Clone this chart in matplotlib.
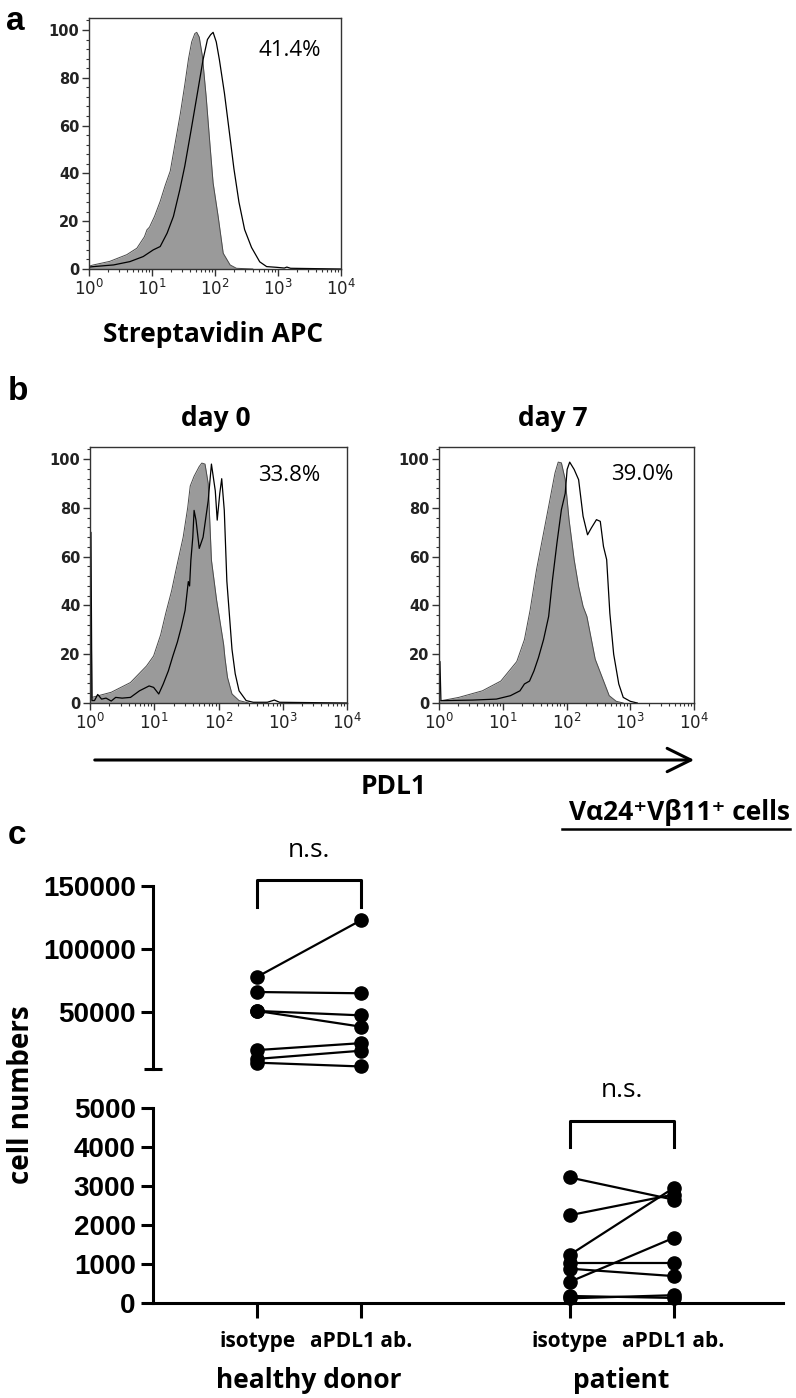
import numpy as np
import matplotlib
matplotlib.use('Agg')
import matplotlib.pyplot as plt
from matplotlib.ticker import MultipleLocator, LogLocator, NullFormatter, FixedLocator
from matplotlib.patches import FancyArrowPatch
from matplotlib.lines import Line2D

W, H = 796, 1398
LABEL_FONT = ['Open Sans', 'DejaVu Sans']
NUM_FONT = ['Liberation Sans', 'DejaVu Sans']
FLOW_FONT = ['DejaVu Sans']

# ---- panel a: Streptavidin APC histogram (log10 intensity, % of max)
a_iso_log = [0.00, 0.07, 0.33, 0.60, 0.76, 0.88, 0.92, 0.96, 1.04, 1.13, 1.21, 1.29, 1.37, 1.45,
             1.52, 1.58, 1.63, 1.68, 1.71, 1.75, 1.80, 1.86, 1.92, 1.97, 2.05, 2.13, 2.24, 2.34, 2.60]
a_iso_val = [1.2, 1.7, 3.2, 6.0, 8.7, 13.5, 16.4, 17.5, 22.0, 28.3, 35.0, 41.0, 53.0, 65.0,
             77.0, 88.0, 95.0, 98.5, 99.0, 97.0, 89.0, 72.0, 52.0, 36.0, 22.0, 6.6, 1.7, 0.3, 0.0]
a_pos_log = [0.00, 0.07, 0.39, 0.65, 0.86, 1.02, 1.13, 1.24, 1.34, 1.44, 1.52, 1.62, 1.73, 1.81,
             1.88, 1.93, 1.97, 2.02, 2.07, 2.15, 2.23, 2.30, 2.38, 2.47, 2.58, 2.71, 2.82, 2.98,
             3.10, 3.14, 3.20, 4.00]
a_pos_val = [0.8, 1.0, 1.7, 3.1, 5.2, 8.0, 9.4, 15.0, 22.0, 33.0, 43.0, 58.0, 75.0, 87.5,
             96.0, 98.0, 99.0, 95.0, 87.5, 73.5, 56.8, 42.0, 28.0, 16.5, 9.0, 3.0, 1.0, 0.7,
             0.4, 0.8, 0.3, 0.0]

# ---- panel b: PDL1 day 0
d0_iso_log = [0.00, 0.02, 0.03, 0.33, 0.63, 0.88, 0.99, 1.10, 1.18, 1.27, 1.35, 1.45, 1.52, 1.56,
              1.62, 1.66, 1.70, 1.74, 1.79, 1.84, 1.89, 1.97, 2.02, 2.08, 2.10, 2.14, 2.21, 2.32, 2.47]
d0_iso_val = [32.0, 32.0, 2.3, 4.4, 8.4, 15.2, 19.3, 28.0, 36.9, 46.0, 56.0, 68.0, 80.0, 89.0,
              93.0, 95.0, 97.0, 98.4, 98.0, 90.0, 58.6, 42.3, 34.0, 24.0, 18.6, 10.5, 3.7, 1.0, 0.0]
d0_pos_log = [0.00, 0.015, 0.03, 0.07, 0.12, 0.18, 0.25, 0.33, 0.40, 0.50, 0.63, 0.77, 0.92, 0.99,
              1.07, 1.14, 1.22, 1.29, 1.36, 1.42, 1.48, 1.53, 1.55, 1.57, 1.60, 1.62, 1.65, 1.70,
              1.76, 1.84, 1.89, 1.95, 1.98, 2.02, 2.05, 2.09, 2.13, 2.17, 2.21, 2.26, 2.32, 2.43,
              2.54, 2.76, 2.87, 2.95, 4.00]
d0_pos_val = [70.0, 70.0, 1.0, 1.0, 3.5, 1.6, 2.0, 0.8, 2.3, 2.0, 2.3, 5.0, 7.0, 6.4,
              3.7, 7.8, 13.2, 19.3, 25.0, 31.0, 38.0, 49.8, 48.0, 58.6, 68.0, 79.0, 75.0, 63.4,
              68.0, 83.0, 98.0, 87.0, 75.0, 86.0, 92.0, 79.0, 50.0, 36.0, 22.0, 12.0, 5.0, 1.0,
              0.3, 0.3, 1.2, 0.3, 0.0]

# ---- panel b: PDL1 day 7
d7_iso_log = [0.00, 0.05, 0.31, 0.68, 0.97, 1.22, 1.34, 1.43, 1.53, 1.64, 1.74, 1.82, 1.87, 1.92,
              1.98, 2.04, 2.12, 2.19, 2.26, 2.32, 2.45, 2.56, 2.67, 2.78, 2.89]
d7_iso_val = [1.0, 1.0, 2.3, 5.0, 9.0, 17.0, 26.0, 38.2, 54.7, 69.7, 83.4, 94.4, 98.8, 98.5,
              91.6, 75.2, 58.8, 47.8, 39.6, 35.5, 18.0, 10.5, 3.0, 0.7, 0.0]
d7_pos_log = [0.00, 0.015, 0.03, 0.09, 0.53, 0.90, 1.12, 1.27, 1.34, 1.42, 1.49, 1.56, 1.64, 1.72,
              1.78, 1.85, 1.92, 1.98, 2.01, 2.05, 2.12, 2.19, 2.26, 2.33, 2.39, 2.47, 2.53, 2.58,
              2.63, 2.68, 2.74, 2.82, 2.89, 3.00, 3.11]
d7_pos_val = [17.0, 17.0, 1.0, 1.0, 1.2, 1.6, 3.0, 5.0, 7.8, 9.0, 13.2, 18.6, 26.0, 35.5,
              50.5, 65.6, 79.3, 86.0, 95.8, 98.8, 95.8, 91.6, 76.6, 69.0, 71.8, 75.2, 74.5, 64.2,
              58.8, 36.8, 20.0, 7.8, 2.3, 0.7, 0.0]

hist_pct = ['41.4%', '33.8%', '39.0%']
day_titles = ['day 0', 'day 7']

# ---- panel c: V alpha24+ V beta11+ cell numbers (paired)
hd_isotype = [78000, 66000, 51000, 51000, 20000, 13000, 10000]
hd_apdl1 = [123000, 65000, 47500, 38500, 25500, 19500, 7000]
pt_isotype = [3220, 2250, 1230, 1020, 880, 540, 180, 120]
pt_apdl1 = [2650, 2780, 2950, 1020, 690, 1670, 130, 200]
cond_labels = ['isotype', 'aPDL1 ab.', 'isotype', 'aPDL1 ab.']
group_labels = ['healthy donor', 'patient']
x_hd = [1, 2]
x_pt = [4, 5]

fig = plt.figure(figsize=(W / 100, H / 100), dpi=100)


def px_axes(l, t, r, b):
    return fig.add_axes([l / W, 1 - b / H, (r - l) / W, (b - t) / H])


def ftext(x, y, s, **kw):
    kw.setdefault('ha', 'center')
    kw.setdefault('va', 'center')
    return fig.text(x / W, 1 - y / H, s, **kw)


def draw_hist(ax, iso_log, iso_val, pos_log, pos_val):
    xi = 10 ** np.array(iso_log)
    xp = 10 ** np.array(pos_log)
    ax.fill_between(xi, iso_val, color='#9a9a9a', lw=0)
    ax.plot(xi, iso_val, color='#4a4a4a', lw=0.7)
    ax.plot(xp, pos_val, color='black', lw=0.9)
    ax.set_xscale('log')
    ax.set_xlim(1, 1e4)
    ax.set_ylim(0, 105)
    ax.set_yticks([0, 20, 40, 60, 80, 100])
    ax.yaxis.set_minor_locator(MultipleLocator(4))
    ax.xaxis.set_minor_locator(LogLocator(base=10, subs=np.arange(2, 10), numticks=20))
    ax.xaxis.set_minor_formatter(NullFormatter())
    ax.set_xticks([1, 10, 100, 1000, 10000])
    ax.set_xticklabels(['$10^{0}$', '$10^{1}$', '$10^{2}$', '$10^{3}$', '$10^{4}$'])
    ax.tick_params(which='major', direction='out', length=5, width=1, color='#333',
                   labelsize=12, labelcolor='#222', pad=2)
    ax.tick_params(which='minor', direction='out', length=2.5, width=0.8, color='#333')
    for lab in ax.get_yticklabels():
        lab.set_fontfamily(FLOW_FONT)
        lab.set_fontweight('bold')
        lab.set_fontsize(10.5)
    for sp in ax.spines.values():
        sp.set_color('#333')
        sp.set_linewidth(1.0)


# panel a
ax_a = px_axes(89, 18, 341, 269)
draw_hist(ax_a, a_iso_log, a_iso_val, a_pos_log, a_pos_val)

# panel b
ax_b0 = px_axes(90, 447, 347, 703)
draw_hist(ax_b0, d0_iso_log, d0_iso_val, d0_pos_log, d0_pos_val)
ax_b7 = px_axes(439, 447, 694, 703)
draw_hist(ax_b7, d7_iso_log, d7_iso_val, d7_pos_log, d7_pos_val)

ftext(290, 50, hist_pct[0], fontsize=16, family=LABEL_FONT)
ftext(289, 476, hist_pct[1], fontsize=16, family=LABEL_FONT)
ftext(642, 475, hist_pct[2], fontsize=16, family=LABEL_FONT)
ftext(213, 335, 'Streptavidin APC', fontsize=19, fontweight='bold', family=LABEL_FONT)
ftext(216, 418, day_titles[0], fontsize=19, fontweight='bold', family=LABEL_FONT)
ftext(553, 418, day_titles[1], fontsize=19, fontweight='bold', family=LABEL_FONT)
ftext(394, 786, 'PDL1', fontsize=19, fontweight='bold', family=LABEL_FONT)

arrow = FancyArrowPatch((92 / W, 1 - 760 / H), (697 / W, 1 - 760 / H),
                        transform=fig.transFigure, arrowstyle='->,head_length=0.85,head_width=0.42',
                        mutation_scale=20, lw=2.2, color='black')
fig.add_artist(arrow)

# panel letters
for letter, (lx, ly) in zip('abc', [(15, 22), (18, 392), (17, 836)]):
    ftext(lx, ly, letter, fontsize=24, fontweight='bold', family=NUM_FONT)

# cell population header (underlined)
ftext(790, 813, 'V\u03b124\u207aV\u03b211\u207a cells', ha='right', fontsize=19,
      fontweight='bold', family=LABEL_FONT)
fig.add_artist(Line2D([562 / W, 790 / W], [1 - 829 / H, 1 - 829 / H],
                      transform=fig.transFigure, color='black', lw=1.8))

# panel c
ax_top = px_axes(153, 886, 783, 1069)
ax_bot = px_axes(153, 1108, 783, 1303)

for ax in (ax_top, ax_bot):
    ax.set_xlim(0, 6.05)
    ax.patch.set_visible(False)
    ax.spines['top'].set_visible(False)
    ax.spines['right'].set_visible(False)
    ax.spines['left'].set_linewidth(2.2)
    ax.spines['bottom'].set_linewidth(2.2)

ax_top.spines['bottom'].set_visible(False)
ax_top.set_ylim(5000, 150000)
ax_top.set_xticks([])
ax_top.set_yticks([50000, 100000, 150000])
ax_top.yaxis.set_minor_locator(FixedLocator([5000]))

ax_bot.set_ylim(0, 5000)
ax_bot.set_yticks([0, 1000, 2000, 3000, 4000, 5000])
ax_bot.yaxis.set_minor_locator(FixedLocator([5000]))
ax_bot.set_xticks(x_hd + x_pt)
ax_bot.set_xticklabels(cond_labels, fontsize=15, fontweight='bold', family=LABEL_FONT)
ax_bot.tick_params(axis='x', direction='out', length=11, width=2.2, pad=9)

for ax in (ax_top, ax_bot):
    ax.tick_params(axis='y', which='major', direction='out', length=8.5, width=2.2, pad=4)
    ax.tick_params(axis='y', which='minor', direction='inout', length=13, width=2.2)
    for lab in ax.get_yticklabels():
        lab.set_fontfamily(NUM_FONT)
        lab.set_fontweight('bold')
        lab.set_fontsize(20)

for v0, v1 in zip(hd_isotype, hd_apdl1):
    ax_top.plot(x_hd, [v0, v1], color='black', lw=1.6, marker='o', ms=9.5, clip_on=False, zorder=3)
for v0, v1 in zip(pt_isotype, pt_apdl1):
    ax_bot.plot(x_pt, [v0, v1], color='black', lw=1.6, marker='o', ms=9.5, clip_on=False, zorder=3)

# significance brackets
ax_top.plot([x_hd[0], x_hd[0], x_hd[1], x_hd[1]], [133000, 155000, 155000, 133000],
            color='black', lw=2.2, clip_on=False)
ax_top.text(np.mean(x_hd), 178000, 'n.s.', ha='center', va='center', fontsize=19, family=LABEL_FONT)
ax_bot.plot([x_pt[0], x_pt[0], x_pt[1], x_pt[1]], [4000, 4670, 4670, 4000],
            color='black', lw=2.2, clip_on=False)
ax_bot.text(np.mean(x_pt), 5460, 'n.s.', ha='center', va='center', fontsize=19, family=LABEL_FONT)

for xs, lab in zip([x_hd, x_pt], group_labels):
    ax_bot.text(np.mean(xs), -0.40, lab, transform=ax_bot.get_xaxis_transform(),
                ha='center', va='center', fontsize=19, fontweight='bold', family=LABEL_FONT)

ftext(22, 1095, 'cell numbers', rotation=90, fontsize=20, fontweight='bold', family=LABEL_FONT)

fig.savefig('out.png', dpi=100)
